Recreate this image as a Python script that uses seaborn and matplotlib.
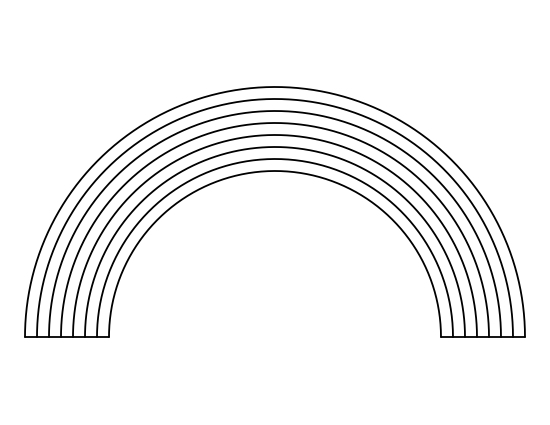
import numpy as np
import matplotlib
matplotlib.use("Agg")
import matplotlib.pyplot as plt
import seaborn as sns

sns.set_theme(style="white")

# rainbow band radii (pixels), outer to inner
radii = [250, 238, 226, 214, 202, 190, 178, 166]
center_x = 275
center_y = 337

fig = plt.figure(figsize=(5.5, 4.25), dpi=100)
ax = fig.add_axes([0, 0, 1, 1])

theta = np.linspace(0, np.pi, 400)
for r in radii:
    sns.lineplot(x=center_x + r * np.cos(theta), y=center_y - r * np.sin(theta),
                 ax=ax, color="black", lw=1.3, sort=False, estimator=None)

# bottom closing lines
r_out, r_in = max(radii), min(radii)
ax.plot([center_x - r_out, center_x - r_in], [center_y, center_y], color="black", lw=1.3)
ax.plot([center_x + r_in, center_x + r_out], [center_y, center_y], color="black", lw=1.3)

ax.set_xlim(0, 550)
ax.set_ylim(425, 0)
ax.axis("off")
fig.savefig("out.png", dpi=100, facecolor="white")
